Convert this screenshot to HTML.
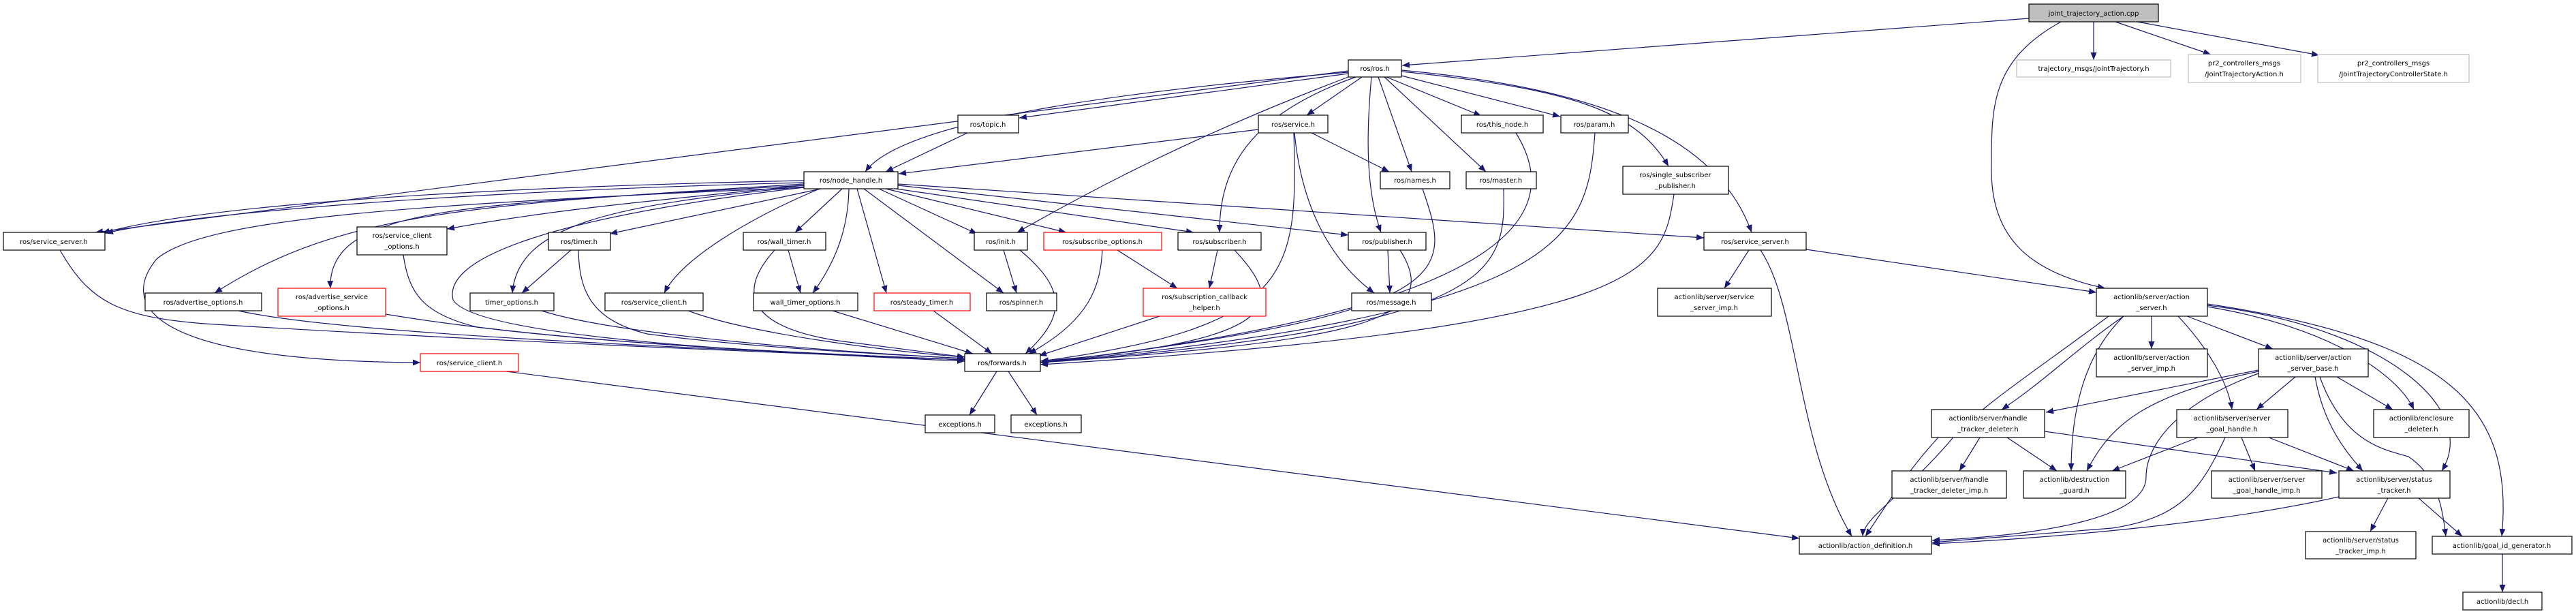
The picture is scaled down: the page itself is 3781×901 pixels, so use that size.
<!DOCTYPE html>
<html><head><meta charset="utf-8"><style>
html,body{margin:0;padding:0;background:#fff;}
svg{display:block}
text{font-family:"DejaVu Sans","Liberation Sans",sans-serif;font-size:10px;fill:#000;text-anchor:middle}
.e{fill:none;stroke:#191970;stroke-width:1.2}
.n{fill:#fff;stroke:#000;stroke-width:1.2}
.r{fill:#fff;stroke:#ff0000;stroke-width:1.2}
.g{fill:#fff;stroke:#bfbfbf;stroke-width:1.2}
</style></head><body>
<svg width="3781" height="901" viewBox="0 0 3781 901" xmlns="http://www.w3.org/2000/svg">
<defs><marker id="a" markerUnits="userSpaceOnUse" markerWidth="12" markerHeight="9" refX="11" refY="4.5" orient="auto"><path d="M0,0 L11,4.5 L0,9 z" fill="#191970"/></marker></defs>
<g class="e" marker-end="url(#a)">
<path d="M2978,27 L2058,96"/>
<path d="M3073,32 L3073,88"/>
<path d="M3105,32 L3245,80"/>
<path d="M3137,32 L3404,81"/>
<path d="M3025,32 C2920,90 2923,160 2923,250 C2923,350 2980,400 3090,423"/>
<path d="M1979,108 L1496,173"/>
<path d="M1999,113 L1918,169"/>
<path d="M2035,113 L2174,170"/>
<path d="M2057,111 L2290,171"/>
<path d="M2023,113 L2072,252"/>
<path d="M2032,113 L2181,252"/>
<path d="M2057,105 C2300,130 2400,160 2449,244"/>
<path d="M2057,103 C2350,130 2520,200 2571,341"/>
<path d="M2013,113 C2005,200 2005,280 2027,341"/>
<path d="M1990,113 C1830,170 1790,250 1790,341"/>
<path d="M1979,113 C1750,200 1600,280 1493,341"/>
<path d="M1979,106 C1700,130 1330,170 1270,252"/>
<path d="M1979,104 L140,341"/>
<path d="M1420,195 L1300,252"/>
<path d="M1847,190 L1319,255"/>
<path d="M1925,195 L2039,252"/>
<path d="M1900,195 C1910,300 1950,380 2017,430"/>
<path d="M1899,195 C1905,400 1900,480 1528,530"/>
<path d="M1180,265 C700,275 300,300 150,342"/>
<path d="M1180,268 C700,280 300,310 155,342"/>
<path d="M1180,272 C900,300 800,310 656,336"/>
<path d="M1205,277 L895,343"/>
<path d="M1236,277 L1167,341"/>
<path d="M1180,270 C700,300 500,310 315,430"/>
<path d="M1180,272 C700,300 480,300 485,423"/>
<path d="M1180,274 C900,300 760,330 752,430"/>
<path d="M1203,277 C1100,320 1000,380 975,430"/>
<path d="M1246,277 C1245,330 1230,380 1193,430"/>
<path d="M1258,277 L1301,430"/>
<path d="M1268,277 L1473,430"/>
<path d="M1290,277 L1434,343"/>
<path d="M1300,277 L1565,341"/>
<path d="M1315,277 L1752,341"/>
<path d="M1318,272 L1979,345"/>
<path d="M1318,270 L2501,349"/>
<path d="M1180,275 C600,300 300,320 230,380 C180,440 200,530 617,532"/>
<path d="M1180,275 C800,320 650,380 665,440 C700,500 1200,520 1416,530"/>
<path d="M88,367 C130,440 170,465 300,475 C700,500 1200,520 1416,528"/>
<path d="M350,456 C500,490 1000,510 1416,528"/>
<path d="M566,461 C800,500 1100,515 1416,528"/>
<path d="M592,374 C600,430 620,460 700,480 C900,505 1200,520 1416,528"/>
<path d="M795,456 C900,490 1200,515 1416,526"/>
<path d="M849,367 C850,430 870,470 950,490 C1100,510 1300,520 1416,526"/>
<path d="M1010,456 C1100,490 1300,515 1416,524"/>
<path d="M1137,367 C1080,430 1100,480 1230,500 L1416,524"/>
<path d="M1222,456 L1428,519"/>
<path d="M1370,456 L1456,519"/>
<path d="M1497,367 C1560,420 1570,460 1505,519"/>
<path d="M1618,367 C1615,420 1600,470 1510,519"/>
<path d="M1702,464 L1525,522"/>
<path d="M1812,367 C1880,440 1900,500 1527,530"/>
<path d="M2055,367 C2120,470 2000,500 1527,532"/>
<path d="M2088,277 C2130,400 2150,460 1527,532"/>
<path d="M2207,277 C2210,400 2200,480 1527,532"/>
<path d="M2225,195 C2290,300 2260,450 1527,532"/>
<path d="M2341,195 C2330,350 2300,460 1527,532"/>
<path d="M2457,285 C2440,400 2420,480 1527,535"/>
<path d="M1473,367 L1492,430"/>
<path d="M838,367 L766,430"/>
<path d="M1157,367 L1175,430"/>
<path d="M1640,367 L1728,423"/>
<path d="M1787,367 L1775,423"/>
<path d="M2037,367 L2040,430"/>
<path d="M1463,545 L1423,609"/>
<path d="M1480,545 L1522,609"/>
<path d="M2567,367 L2531,423"/>
<path d="M2651,366 L3077,429"/>
<path d="M2584,367 C2640,450 2636,650 2718,787"/>
<path d="M743,545 L2641,790"/>
<path d="M3158,464 L3158,512"/>
<path d="M3210,464 L3336,512"/>
<path d="M3197,464 C3240,510 3270,560 3276,601"/>
<path d="M3117,464 C3050,510 3000,560 2938,601"/>
<path d="M3117,464 C3060,520 3040,600 3040,691"/>
<path d="M3095,464 C2980,550 2900,600 2860,650 C2790,730 2735,760 2734,787"/>
<path d="M3240,450 C3420,480 3520,550 3543,601"/>
<path d="M3240,448 C3500,480 3640,600 3584,691"/>
<path d="M3240,446 C3600,500 3690,600 3672,787"/>
<path d="M3315,543 L3003,605"/>
<path d="M3315,545 C3150,580 3100,620 3063,691"/>
<path d="M3315,548 C3200,590 3150,650 3150,700 C3150,760 3000,785 2836,793"/>
<path d="M3369,553 L3312,601"/>
<path d="M3430,553 L3512,601"/>
<path d="M3398,553 C3410,620 3440,660 3468,691"/>
<path d="M3405,553 C3440,650 3500,660 3535,670 C3580,700 3585,750 3590,787"/>
<path d="M2906,642 L2876,691"/>
<path d="M2946,642 L3019,691"/>
<path d="M2845,642 C2800,690 2770,740 2738,787"/>
<path d="M3001,633 L3430,694"/>
<path d="M3226,642 L3100,691"/>
<path d="M3290,642 L3310,691"/>
<path d="M3330,642 L3455,691"/>
<path d="M3266,642 C3230,720 3200,760 3100,775 L2836,796"/>
<path d="M3433,729 C3250,770 3000,790 2836,798"/>
<path d="M3505,731 L3479,780"/>
<path d="M3550,731 L3614,787"/>
<path d="M3673,813 L3673,869"/>
</g>
<g>
<rect x="2978" y="6" width="190" height="26" fill="#bfbfbf" stroke="#000" stroke-width="1.2"/><text x="3073" y="23">joint_trajectory_action.cpp</text>
<rect class="n" x="1979" y="88" width="78" height="25"/><text x="2018" y="104">ros/ros.h</text>
<rect class="g" x="2960" y="88" width="226" height="25"/><text x="3073" y="104">trajectory_msgs/JointTrajectory.h</text>
<rect class="g" x="3212" y="80" width="165" height="41"/><text x="3294" y="96">pr2_controllers_msgs</text><text x="3294" y="112">/JointTrajectoryAction.h</text>
<rect class="g" x="3402" y="80" width="222" height="41"/><text x="3513" y="96">pr2_controllers_msgs</text><text x="3513" y="112">/JointTrajectoryControllerState.h</text>
<rect class="n" x="1406" y="169" width="89" height="26"/><text x="1450" y="186">ros/topic.h</text>
<rect class="n" x="1847" y="169" width="102" height="26"/><text x="1898" y="186">ros/service.h</text>
<rect class="n" x="2145" y="169" width="120" height="26"/><text x="2205" y="186">ros/this_node.h</text>
<rect class="n" x="2291" y="169" width="99" height="26"/><text x="2340" y="186">ros/param.h</text>
<rect class="n" x="1180" y="252" width="138" height="25"/><text x="1249" y="268">ros/node_handle.h</text>
<rect class="n" x="2026" y="252" width="102" height="25"/><text x="2077" y="268">ros/names.h</text>
<rect class="n" x="2152" y="252" width="103" height="25"/><text x="2203" y="268">ros/master.h</text>
<rect class="n" x="2382" y="244" width="155" height="41"/><text x="2459" y="260">ros/single_subscriber</text><text x="2459" y="276">_publisher.h</text>
<rect class="n" x="5" y="341" width="149" height="26"/><text x="79" y="358">ros/service_server.h</text>
<rect class="n" x="524" y="333" width="132" height="41"/><text x="590" y="349">ros/service_client</text><text x="590" y="365">_options.h</text>
<rect class="n" x="805" y="341" width="91" height="26"/><text x="850" y="358">ros/timer.h</text>
<rect class="n" x="1091" y="341" width="121" height="26"/><text x="1151" y="358">ros/wall_timer.h</text>
<rect class="n" x="1430" y="341" width="78" height="26"/><text x="1469" y="358">ros/init.h</text>
<rect class="r" x="1532" y="341" width="173" height="26"/><text x="1618" y="358">ros/subscribe_options.h</text>
<rect class="n" x="1729" y="341" width="122" height="26"/><text x="1790" y="358">ros/subscriber.h</text>
<rect class="n" x="1979" y="341" width="114" height="26"/><text x="2036" y="358">ros/publisher.h</text>
<rect class="n" x="2501" y="341" width="150" height="26"/><text x="2576" y="358">ros/service_server.h</text>
<rect class="n" x="213" y="430" width="171" height="26"/><text x="298" y="447">ros/advertise_options.h</text>
<rect class="r" x="408" y="423" width="158" height="41"/><text x="487" y="439">ros/advertise_service</text><text x="487" y="455">_options.h</text>
<rect class="n" x="690" y="430" width="123" height="26"/><text x="751" y="447">timer_options.h</text>
<rect class="n" x="888" y="430" width="144" height="26"/><text x="960" y="447">ros/service_client.h</text>
<rect class="n" x="1106" y="430" width="153" height="26"/><text x="1182" y="447">wall_timer_options.h</text>
<rect class="r" x="1283" y="430" width="141" height="26"/><text x="1353" y="447">ros/steady_timer.h</text>
<rect class="n" x="1448" y="430" width="103" height="26"/><text x="1499" y="447">ros/spinner.h</text>
<rect class="r" x="1678" y="423" width="180" height="41"/><text x="1768" y="439">ros/subscription_callback</text><text x="1768" y="455">_helper.h</text>
<rect class="n" x="1984" y="430" width="117" height="26"/><text x="2042" y="447">ros/message.h</text>
<rect class="n" x="2433" y="423" width="167" height="41"/><text x="2516" y="439">actionlib/server/service</text><text x="2516" y="455">_server_imp.h</text>
<rect class="n" x="3077" y="423" width="163" height="41"/><text x="3158" y="439">actionlib/server/action</text><text x="3158" y="455">_server.h</text>
<rect class="r" x="617" y="519" width="144" height="26"/><text x="689" y="536">ros/service_client.h</text>
<rect class="n" x="1416" y="519" width="111" height="26"/><text x="1471" y="536">ros/forwards.h</text>
<rect class="n" x="1358" y="609" width="102" height="26"/><text x="1409" y="626">exceptions.h</text>
<rect class="n" x="1484" y="609" width="103" height="26"/><text x="1535" y="626">exceptions.h</text>
<rect class="n" x="3077" y="512" width="163" height="41"/><text x="3158" y="528">actionlib/server/action</text><text x="3158" y="544">_server_imp.h</text>
<rect class="n" x="3315" y="512" width="161" height="41"/><text x="3395" y="528">actionlib/server/action</text><text x="3395" y="544">_server_base.h</text>
<rect class="n" x="2835" y="601" width="166" height="41"/><text x="2918" y="617">actionlib/server/handle</text><text x="2918" y="633">_tracker_deleter.h</text>
<rect class="n" x="3195" y="601" width="163" height="41"/><text x="3276" y="617">actionlib/server/server</text><text x="3276" y="633">_goal_handle.h</text>
<rect class="n" x="3484" y="601" width="140" height="41"/><text x="3554" y="617">actionlib/enclosure</text><text x="3554" y="633">_deleter.h</text>
<rect class="n" x="2777" y="691" width="168" height="40"/><text x="2861" y="707">actionlib/server/handle</text><text x="2861" y="723">_tracker_deleter_imp.h</text>
<rect class="n" x="2970" y="691" width="150" height="40"/><text x="3045" y="707">actionlib/destruction</text><text x="3045" y="723">_guard.h</text>
<rect class="n" x="3246" y="691" width="162" height="40"/><text x="3327" y="707">actionlib/server/server</text><text x="3327" y="723">_goal_handle_imp.h</text>
<rect class="n" x="3433" y="691" width="163" height="40"/><text x="3514" y="707">actionlib/server/status</text><text x="3514" y="723">_tracker.h</text>
<rect class="n" x="2641" y="787" width="194" height="26"/><text x="2738" y="804">actionlib/action_definition.h</text>
<rect class="n" x="3384" y="780" width="162" height="40"/><text x="3465" y="796">actionlib/server/status</text><text x="3465" y="812">_tracker_imp.h</text>
<rect class="n" x="3570" y="787" width="205" height="26"/><text x="3672" y="804">actionlib/goal_id_generator.h</text>
<rect class="n" x="3615" y="869" width="116" height="26"/><text x="3673" y="886">actionlib/decl.h</text>
</g>
</svg>
</body></html>
